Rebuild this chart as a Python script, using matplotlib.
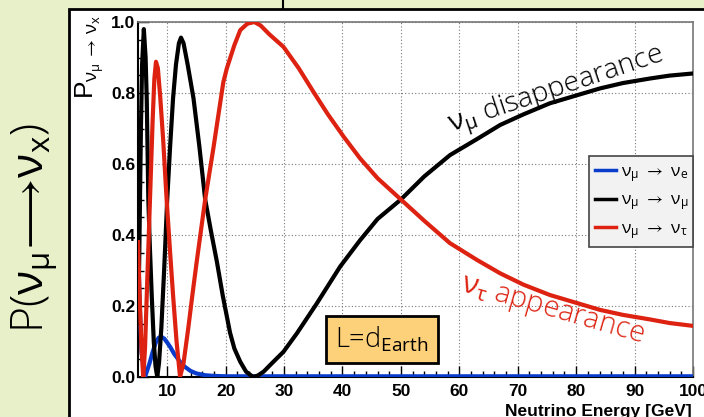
import matplotlib
matplotlib.use("Agg")
import matplotlib.pyplot as plt
from matplotlib.lines import Line2D
from matplotlib.patches import Rectangle
from matplotlib.ticker import MultipleLocator

energy_mumu = [5.0, 5.2, 5.34, 5.5, 5.7, 6.0, 6.3, 6.5, 6.77, 7.0, 7.35, 7.7, 8.0, 8.3,
               8.6, 9.0, 9.5, 10.0, 10.5, 11.0, 11.5, 12.0, 12.36, 12.8, 13.5, 14.5,
               15.5, 16.5, 17.5, 18.5, 19.5, 20.75, 21.5, 22.5, 23.5, 24.7, 25.5, 26.5,
               28.0, 29.9, 32.2, 35.6, 39.6, 43.0, 46.0, 50.0, 54.0, 58.4, 63.0, 67.0,
               71.0, 75.5, 80.0, 84.1, 88.0, 92.7, 96.0, 100.0]
p_mumu = [0.15, 0.32, 0.5, 0.7, 0.88, 0.98, 0.9, 0.78, 0.5, 0.38, 0.23, 0.1, 0.03, 0.0,
          0.04, 0.14, 0.31, 0.5, 0.65, 0.785, 0.88, 0.94, 0.956, 0.94, 0.88, 0.785,
          0.65, 0.5, 0.41, 0.325, 0.23, 0.125, 0.08, 0.043, 0.015, 0.0, 0.004, 0.015,
          0.04, 0.071, 0.123, 0.207, 0.311, 0.385, 0.445, 0.5, 0.565, 0.625, 0.67, 0.71,
          0.74, 0.771, 0.793, 0.813, 0.828, 0.841, 0.849, 0.855]

energy_mutau = [5.0, 5.3, 5.6, 5.9, 6.2, 6.6, 7.05, 7.5, 7.8, 8.08, 8.4, 8.8, 9.3, 9.9,
                10.5, 11.0, 11.6, 12.2, 12.8, 13.6, 14.3, 15.05, 16.5, 17.9, 19.6, 20.2,
                21.5, 22.5, 23.7, 24.9, 26.0, 27.5, 29.9, 32.5, 35.0, 37.5, 40.2, 43.0,
                46.0, 50.0, 54.0, 58.4, 63.0, 67.0, 71.0, 75.5, 80.0, 84.1, 88.0, 92.7,
                96.0, 100.0]
p_mutau = [0.38, 0.22, 0.08, 0.0, 0.08, 0.28, 0.5, 0.72, 0.84, 0.888, 0.87, 0.79, 0.67,
           0.5, 0.35, 0.231, 0.1, 0.0, 0.04, 0.137, 0.23, 0.325, 0.5, 0.644, 0.83, 0.869,
           0.935, 0.977, 0.995, 1.0, 0.99, 0.965, 0.93, 0.87, 0.804, 0.74, 0.677, 0.616,
           0.56, 0.5, 0.44, 0.377, 0.33, 0.292, 0.26, 0.231, 0.209, 0.189, 0.175, 0.162,
           0.152, 0.144]

energy_mue = [5.0, 5.3, 5.6, 6.2, 6.6, 7.0, 7.5, 8.0, 8.5, 8.94, 9.5, 10.0, 10.5, 11.2,
              12.2, 13.0, 14.0, 15.0, 16.5, 18.0, 20.0, 25.0, 100.0]
p_mue = [0.38, 0.2, 0.07, 0.0, 0.02, 0.04, 0.07, 0.095, 0.11, 0.114, 0.108, 0.097, 0.085,
         0.065, 0.043, 0.029, 0.017, 0.01, 0.005, 0.003, 0.002, 0.002, 0.002]

x_ticks = [10, 20, 30, 40, 50, 60, 70, 80, 90, 100]
y_ticks = [0.0, 0.2, 0.4, 0.6, 0.8, 1.0]

RED = "#dd2211"
BLUE = "#0a3ccc"

plt.rcParams["mathtext.fontset"] = "custom"
plt.rcParams["mathtext.rm"] = "Open Sans"
plt.rcParams["mathtext.it"] = "Open Sans:italic"
plt.rcParams["mathtext.bf"] = "Open Sans:bold"
plt.rcParams["mathtext.fallback"] = "stixsans"

fig = plt.figure(figsize=(7.04, 4.17), dpi=100, facecolor="#e8f0c9")

# white slide panel
fig.patches.append(Rectangle((69 / 704, -0.05), 1.0, (417 - 9) / 417 + 0.05,
                             transform=fig.transFigure, facecolor="white",
                             edgecolor="black", linewidth=2, zorder=0))
fig.add_artist(Line2D([283 / 704, 283 / 704], [(417 - 9) / 417, 1.0],
                      transform=fig.transFigure, color="black", linewidth=1.5))

ax = fig.add_axes([138 / 704, 40 / 417, 555 / 704, 355 / 417])
ax.set_zorder(2)
ax.set_facecolor("white")

ax.plot(energy_mue, p_mue, color=BLUE, lw=3, solid_capstyle="butt", zorder=3)
ax.plot(energy_mumu, p_mumu, color="black", lw=3, zorder=3)
ax.plot(energy_mutau, p_mutau, color=RED, lw=3, zorder=3)

ax.set_xlim(5, 100)
ax.set_ylim(0, 1)
ax.set_xticks(x_ticks)
ax.set_yticks(y_ticks)
ax.set_yticklabels([f"{v:.1f}" for v in y_ticks])
ax.xaxis.set_minor_locator(MultipleLocator(2))
ax.yaxis.set_minor_locator(MultipleLocator(0.05))
ax.tick_params(which="both", direction="in", top=False, right=False, width=1)
ax.tick_params(which="major", length=8)
ax.tick_params(which="minor", length=4)
ax.tick_params(axis="x", pad=5)
ax.tick_params(axis="y", pad=2)
for lab in ax.get_xticklabels() + ax.get_yticklabels():
    lab.set_fontfamily("Liberation Sans")
    lab.set_fontweight("bold")
    lab.set_fontsize(12.5)
ax.grid(True, which="major", linestyle=(0, (1, 2)), color="#777777", linewidth=0.8)
for s in ["left", "bottom"]:
    ax.spines[s].set_linewidth(1.5)
for s in ["top", "right"]:
    ax.spines[s].set_color("#777777")
    ax.spines[s].set_linewidth(1.2)

# axis titles
fig.text(692 / 704, 1 / 417, "Neutrino Energy [GeV]", ha="right", va="baseline",
         fontfamily="Liberation Sans", fontweight="bold", fontsize=12.5, zorder=3)
fig.text(90 / 704, (417 - 15) / 417, r"P$_{\mathrm{\nu_{\mu}\,\rightarrow\,\nu_{x}}}$",
         rotation=90, ha="center", va="top", fontfamily="Liberation Sans", fontsize=19,
         zorder=3)
fig.text(34 / 704, (417 - 228) / 417,
         r"P($\mathrm{\nu_{\mu}}\!\longrightarrow\!\mathrm{\nu_{x}}$)",
         rotation=90, ha="center", va="center", fontfamily="Open Sans", fontsize=32,
         fontweight="light", zorder=3)

# legend
handles = [Line2D([], [], color=BLUE, lw=2.5), Line2D([], [], color="black", lw=2.5),
           Line2D([], [], color=RED, lw=2.5)]
labels = [r"$\mathrm{\nu_{\mu}\ \rightarrow\ \nu_{e}}$",
          r"$\mathrm{\nu_{\mu}\ \rightarrow\ \nu_{\mu}}$",
          r"$\mathrm{\nu_{\mu}\ \rightarrow\ \nu_{\tau}}$"]
leg = ax.legend(handles, labels, loc="upper left",
                bbox_to_anchor=(0.8126, 0.3746, 0.187, 0.248), mode="expand",
                fancybox=False, facecolor="#f2f2f2", edgecolor="#444444", framealpha=1,
                fontsize=12.5, handlelength=1.2, handletextpad=0.3, labelspacing=0.4,
                borderpad=0.35, borderaxespad=0)
leg.get_frame().set_linewidth(1.2)

# annotations
ax.text(58.6, 0.69, r"$\mathrm{\nu_{\mu}}$ disappearance", rotation=18.5,
        rotation_mode="anchor", ha="left", va="baseline", fontfamily="Open Sans",
        fontweight="light", fontsize=20.5, color="black", zorder=4)
ax.text(60.0, 0.245, r"$\mathrm{\nu_{\tau}}$ appearance", rotation=-16,
        rotation_mode="anchor", ha="left", va="baseline", fontfamily="Open Sans",
        fontweight="light", fontsize=21, color=RED, zorder=4)

ax.add_patch(Rectangle((0.3387, 0.0394), 0.2018, 0.1324, transform=ax.transAxes,
                       facecolor="#fdd17a", edgecolor="black", linewidth=2, zorder=5))
ax.text(0.3387 + 0.1009, 0.0394 + 0.066, r"L=d$_{\mathrm{Earth}}$", transform=ax.transAxes,
        ha="center", va="center", fontfamily="Open Sans", fontweight="light", fontsize=19.5,
        zorder=6)

fig.savefig("out.png", dpi=100, facecolor=fig.get_facecolor())
